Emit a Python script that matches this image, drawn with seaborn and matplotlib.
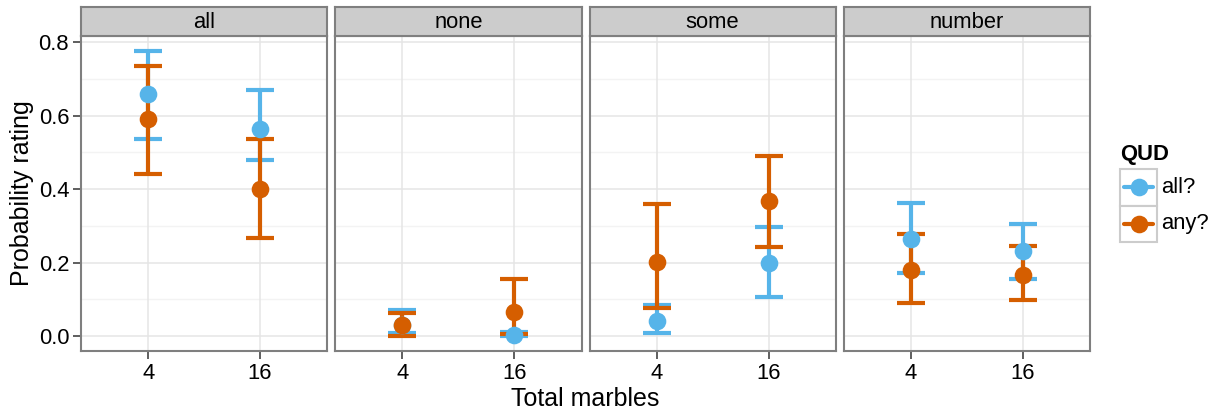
import matplotlib
matplotlib.use("Agg")
import matplotlib.pyplot as plt
from matplotlib.lines import Line2D
from matplotlib.patches import Rectangle
import numpy as np
import pandas as pd
import seaborn as sns

# ---- data -------------------------------------------------------------
quantifiers = ["all", "none", "some", "number"]
totals = ["4", "16"]
quds = ["all?", "any?"]

# means and 95% CI bounds, ordered quantifier x total (4, 16)
mean_all_q = [0.658, 0.562, 0.030, 0.003, 0.042, 0.198, 0.263, 0.232]
low_all_q = [0.537, 0.478, 0.008, 0.000, 0.007, 0.106, 0.172, 0.156]
high_all_q = [0.776, 0.669, 0.072, 0.010, 0.084, 0.296, 0.361, 0.305]

mean_any_q = [0.590, 0.399, 0.030, 0.066, 0.201, 0.367, 0.180, 0.165]
low_any_q = [0.440, 0.266, 0.000, 0.005, 0.075, 0.242, 0.089, 0.098]
high_any_q = [0.734, 0.536, 0.063, 0.156, 0.359, 0.491, 0.278, 0.245]

palette = {"all?": "#56B4E9", "any?": "#D55E00"}

rows = []
for qud, m, lo, hi in [("all?", mean_all_q, low_all_q, high_all_q),
                       ("any?", mean_any_q, low_any_q, high_any_q)]:
    i = 0
    for qf in quantifiers:
        for t in totals:
            rows.append(dict(quantifier=qf, total=t, QUD=qud,
                             rating=m[i], low=lo[i], high=hi[i]))
            i += 1
df = pd.DataFrame(rows)

# ---- style ------------------------------------------------------------
sns.set_theme(style="white")
plt.rcParams["font.family"] = ["Liberation Sans", "DejaVu Sans"]
plt.rcParams["text.color"] = "black"

W, H = 1210, 411
fig = plt.figure(figsize=(W / 100, H / 100), dpi=100)

left_px, right_px = 81, 1090
gap_px = 8
pw = (right_px - left_px - 3 * gap_px) / 4
panel_top, panel_bot = 36, 351
strip_top = 7

border = "#7f7f7f"
tick_fs = 15.8
title_fs = 18
lw = 3.0
cap = 10.3
msize = 12.7


def px_box(x0, y0, x1, y1):
    """Figure-fraction rectangle from pixel edges (y measured from the top)."""
    return [x0 / W, 1 - y1 / H, (x1 - x0) / W, (y1 - y0) / H]


for k, qf in enumerate(quantifiers):
    x0 = left_px + k * (pw + gap_px)
    ax = fig.add_axes(px_box(x0, panel_top, x0 + pw, panel_bot))
    sub = df[df.quantifier == qf]

    # grid
    ax.set_facecolor("white")
    for v in [0.1, 0.3, 0.5, 0.7]:
        ax.axhline(v, color="#f3f3f3", lw=1.0, zorder=0)
    for v in [0.0, 0.2, 0.4, 0.6, 0.8]:
        ax.axhline(v, color="#e5e5e5", lw=1.1, zorder=0.5)
    for i in range(len(totals)):
        ax.axvline(i, color="#e5e5e5", lw=1.1, zorder=0.5)

    # error bars
    for j, qud in enumerate(quds):
        s = sub[sub.QUD == qud].set_index("total").loc[totals]
        xs = np.arange(len(totals))
        ax.errorbar(xs, s["rating"], yerr=[s["rating"] - s["low"], s["high"] - s["rating"]],
                    fmt="none", ecolor=palette[qud], elinewidth=lw, capsize=cap,
                    capthick=lw, zorder=2 + j)

    # points
    sns.pointplot(data=sub, x="total", y="rating", hue="QUD", order=totals,
                  hue_order=quds, palette=palette, linestyle="none", errorbar=None,
                  markers="o", markersize=msize, markeredgewidth=0, dodge=False,
                  legend=False, ax=ax, zorder=5)

    ax.set_xlim(-0.6, 1.6)
    ax.set_ylim((336 - panel_bot) / 367.5, (336 - panel_top) / 367.5)
    ax.set_xlabel("")
    ax.set_ylabel("")
    ax.set_yticks([0.0, 0.2, 0.4, 0.6, 0.8])
    ax.set_yticklabels(["0.0", "0.2", "0.4", "0.6", "0.8"])
    for sp in ax.spines.values():
        sp.set_color(border)
        sp.set_linewidth(1.5)
        sp.set_zorder(10)
    ax.tick_params(axis="both", which="both", direction="out", length=5.5, width=1.1,
                   color="#333333", labelsize=tick_fs, labelcolor="black", pad=3.0)
    ax.tick_params(axis="x", bottom=True)
    if k == 0:
        ax.tick_params(axis="y", left=True)
    else:
        ax.tick_params(axis="y", left=False, labelleft=False)

    # facet strip
    sax = fig.add_axes(px_box(x0, strip_top, x0 + pw, panel_top))
    sax.set_facecolor("#cccccc")
    sax.set_xticks([])
    sax.set_yticks([])
    for sp in sax.spines.values():
        sp.set_color(border)
        sp.set_linewidth(1.5)
    sax.text(0.5, 0.45, qf, ha="center", va="center", fontsize=tick_fs,
             color="black", transform=sax.transAxes)

fig.text(22 / W, 1 - 193 / H, "Probability rating", rotation=90, ha="center",
         va="center", fontsize=title_fs)
fig.text(585 / W, 1 - 399 / H, "Total marbles", ha="center", va="center",
         fontsize=title_fs)

# legend panel, laid out in pixel units
lax = fig.add_axes(px_box(1110, 135, 1210, 250))
lax.set_xlim(1110, 1210)
lax.set_ylim(250, 135)
lax.axis("off")
lax.text(1120, 154, "QUD", fontsize=tick_fs, fontweight="bold", ha="left", va="center")
key_top, key_h = 169, 36.5
for r, qud in enumerate(quds):
    ky = key_top + r * key_h
    lax.add_patch(Rectangle((1120, ky), 36.5, key_h, facecolor="white",
                            edgecolor="#cccccc", lw=1.5))
    cy = ky + key_h / 2
    lax.add_line(Line2D([1124, 1153], [cy, cy], color=palette[qud], lw=lw))
    lax.add_line(Line2D([1138.5], [cy], color=palette[qud], marker="o",
                        markersize=msize, markeredgewidth=0))
    lax.text(1161, cy, qud, fontsize=tick_fs, ha="left", va="center")

fig.savefig("out.png", dpi=100)
